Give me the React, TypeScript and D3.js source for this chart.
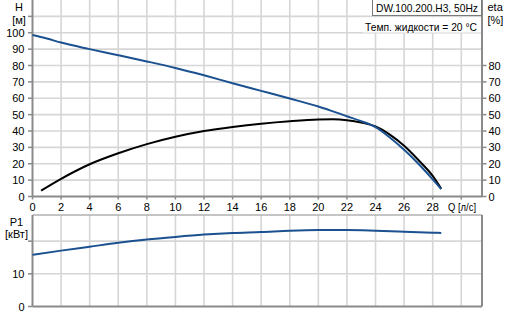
import React from "react";
import * as d3 from "d3";

const headFlow = [0, 1, 2, 4, 6, 8, 10, 12, 14, 16, 18, 20, 22, 23, 24, 25, 26, 27, 28, 28.6];
const head = [98.6, 96.5, 94, 90, 86.3, 82.5, 78.5, 74, 69.2, 64.5, 59.8, 55, 49, 46, 42.3, 36, 28.5, 20, 10.5, 4.5];

const etaFlow = [0.6, 2, 4, 6, 8, 10, 12, 14, 16, 18, 20, 21, 22, 23, 24, 25, 26, 27, 28, 28.6];
const eta = [3.6, 10.8, 19.7, 26.4, 32, 36.5, 40, 42.5, 44.5, 46, 47, 47.1, 46.6, 45.2, 42.8, 37.8, 31, 22.3, 12.6, 4.7];

const powerFlow = [0, 2, 4, 6, 8, 10, 12, 14, 16, 18, 20, 22, 24, 26, 28, 28.6];
const power = [15.8, 17.1, 18.3, 19.5, 20.5, 21.3, 22, 22.5, 22.8, 23.2, 23.4, 23.4, 23.2, 22.9, 22.6, 22.5];

const xTicks = [0, 2, 4, 6, 8, 10, 12, 14, 16, 18, 20, 22, 24, 26, 28];
const xGrid = [2, 4, 6, 8, 10, 12, 14, 16, 18, 20, 22, 24, 26, 28, 30];
const hTicks = [0, 10, 20, 30, 40, 50, 60, 70, 80, 90, 100];
const hGrid = [10, 20, 30, 40, 50, 60, 70, 80, 90, 100, 110];
const etaTicks = [0, 10, 20, 30, 40, 50, 60, 70, 80];
const pTicks = [0, 10];
const pGrid = [10, 20];

const title = "DW.100.200.H3, 50Hz";
const subtitle = "Темп. жидкости = 20 °C";

export default function App() {
  const W = 508, H = 315;
  const left = 32.5, right = 482;
  const x = d3.scaleLinear().domain([0, 31.45]).range([left, right]);
  const yH = d3.scaleLinear().domain([0, 120]).range([196.5, 0]);
  const yP = d3.scaleLinear().domain([0, 28]).range([306.5, 215]);

  const lineH = d3.line<number>().x((_, i) => x(headFlow[i])).y((d) => yH(d)).curve(d3.curveMonotoneX);
  const lineE = d3.line<number>().x((_, i) => x(etaFlow[i])).y((d) => yH(d)).curve(d3.curveMonotoneX);
  const lineP = d3.line<number>().x((_, i) => x(powerFlow[i])).y((d) => yP(d)).curve(d3.curveMonotoneX);

  const gridColor = "#d6d6d6";
  const axisColor = "#8a8a8a";
  const font = "'Liberation Sans', Arial, sans-serif";
  const fs = 11;
  const blue = "#1b5190";

  return (
    <svg width={W} height={H} style={{ position: "absolute", left: 0, top: 0, fontFamily: font }}>
      <rect x={0} y={0} width={W} height={H} fill="#fff" />
      {/* top plot grid */}
      {xGrid.map((v) => (
        <line key={"vg" + v} x1={x(v)} x2={x(v)} y1={0} y2={yH(0)} stroke={gridColor} strokeWidth={1.6} />
      ))}
      {hGrid.map((v) => (
        <line key={"hg" + v} x1={left} x2={right} y1={yH(v)} y2={yH(v)} stroke={gridColor} strokeWidth={1.6} />
      ))}
      {/* bottom plot grid */}
      {xGrid.map((v) => (
        <line key={"vgp" + v} x1={x(v)} x2={x(v)} y1={215} y2={yP(0)} stroke={gridColor} strokeWidth={1.6} />
      ))}
      {pGrid.map((v) => (
        <line key={"pg" + v} x1={left} x2={right} y1={yP(v)} y2={yP(v)} stroke={gridColor} strokeWidth={1.6} />
      ))}
      <line x1={left} x2={right} y1={215} y2={215} stroke="#b0b0b0" strokeWidth={1.6} />

      {/* axes top */}
      <line x1={left} x2={left} y1={0} y2={yH(0)} stroke={axisColor} strokeWidth={2} />
      <line x1={right} x2={right} y1={0} y2={yH(0)} stroke={axisColor} strokeWidth={2} />
      <line x1={left} x2={right} y1={yH(0)} y2={yH(0)} stroke={axisColor} strokeWidth={2} />
      {hGrid.concat([0]).map((v) => (
        <line key={"ht" + v} x1={28} x2={left} y1={yH(v)} y2={yH(v)} stroke={axisColor} strokeWidth={1.5} />
      ))}
      {etaTicks.map((v) => (
        <line key={"et" + v} x1={right} x2={486.5} y1={yH(v)} y2={yH(v)} stroke={axisColor} strokeWidth={1.5} />
      ))}
      {[0].concat(xGrid).map((v) => (
        <line key={"xt" + v} x1={x(v)} x2={x(v)} y1={yH(0)} y2={yH(0) + 3} stroke={axisColor} strokeWidth={1.5} />
      ))}

      {/* axes bottom */}
      <line x1={left} x2={left} y1={215} y2={yP(0)} stroke={axisColor} strokeWidth={2} />
      <line x1={right} x2={right} y1={215} y2={yP(0)} stroke={axisColor} strokeWidth={2} />
      <line x1={left} x2={right} y1={yP(0)} y2={yP(0)} stroke={axisColor} strokeWidth={2} />
      {[0, 10, 20].map((v) => (
        <line key={"pt" + v} x1={28} x2={left} y1={yP(v)} y2={yP(v)} stroke={axisColor} strokeWidth={1.5} />
      ))}

      {/* curves */}
      <path d={lineP(power) || ""} fill="none" stroke={blue} strokeWidth={2} />
      <path d={lineE(eta) || ""} fill="none" stroke="#000" strokeWidth={2} />
      <path d={lineH(head) || ""} fill="none" stroke={blue} strokeWidth={2} />

      {/* labels */}
      <g fontSize={fs} fill="#000">
        {hTicks.map((v) => (
          <text key={"hl" + v} x={24.5} y={yH(v)} textAnchor="end" dominantBaseline="central">{v}</text>
        ))}
        {etaTicks.map((v) => (
          <text key={"el" + v} x={488.5} y={yH(v)} textAnchor="start" dominantBaseline="central">{v}</text>
        ))}
        {xTicks.map((v) => (
          <text key={"xl" + v} x={x(v)} y={207} textAnchor="middle" dominantBaseline="central">{v}</text>
        ))}
        <text x={448} y={207} dominantBaseline="central" textLength={28} lengthAdjust="spacingAndGlyphs">Q [л/с]</text>
        {pTicks.map((v) => (
          <text key={"pl" + v} x={24.5} y={yP(v)} textAnchor="end" dominantBaseline="central">{v}</text>
        ))}
        <text x={19} y={7} textAnchor="middle" dominantBaseline="central">H</text>
        <text x={19} y={19.5} textAnchor="middle" dominantBaseline="central">[м]</text>
        <text x={487.5} y={7} dominantBaseline="central">eta</text>
        <text x={487.5} y={19.5} dominantBaseline="central">[%]</text>
        <text x={16.5} y={222} textAnchor="middle" dominantBaseline="central">P1</text>
        <text x={16.5} y={234} textAnchor="middle" dominantBaseline="central">[кВт]</text>
      </g>

      {/* legend boxes */}
      <rect x={363} y={17.5} width={118} height={15} fill="#fff" />
      <rect x={372.5} y={-1} width={109} height={16.5} fill="#fff" stroke="#7a7a7a" strokeWidth={1} />
      <g fontSize={fs} fill="#000">
        <text x={376} y={8} dominantBaseline="central" textLength={102} lengthAdjust="spacingAndGlyphs">{title}</text>
        <text x={365} y={26.5} dominantBaseline="central" textLength={112} lengthAdjust="spacingAndGlyphs">{subtitle}</text>
      </g>
    </svg>
  );
}
